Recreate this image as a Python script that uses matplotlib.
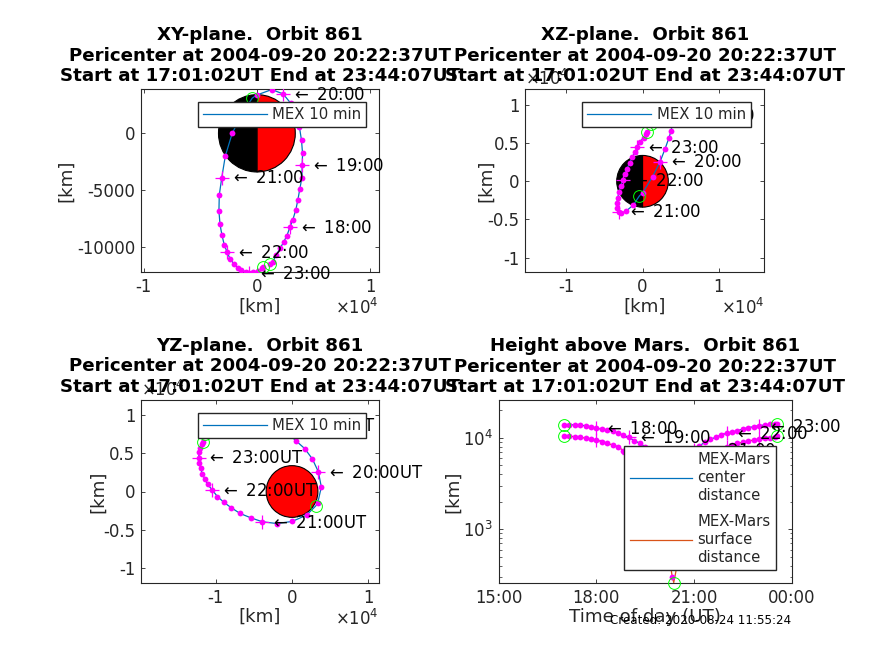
import matplotlib
matplotlib.use("Agg")
import matplotlib.pyplot as plt
from matplotlib.patches import Wedge
from matplotlib.ticker import FuncFormatter, NullFormatter, LogLocator
import numpy as np

W, H = 874, 655
plt.rcParams['font.family'] = ['DejaVu Sans']
plt.rcParams['mathtext.default'] = 'regular'
plt.rcParams['mathtext.fontset'] = 'cm'

times = ["17:01","17:10","17:20","17:30","17:40","17:50","18:00","18:10","18:20","18:30","18:40","18:50",
         "19:00","19:10","19:20","19:30","19:40","19:50","20:00","20:10","20:20","20:22:37","20:30","20:40","20:50",
         "21:00","21:10","21:20","21:30","21:40","21:50","22:00","22:10","22:20","22:30","22:40","22:50",
         "23:00","23:10","23:20","23:30","23:33"]
x_km = [1170,1410,1680,2060,2380,2650,2910,3180,3440,3620,3790,3970,
        4000,4030,3940,3760,3450,2970,2320,1320,0,-400,-1200,-2180,-2790,
        -3100,-3320,-3350,-3260,-3090,-2880,-2620,-2350,-2030,-1710,-1380,-1000,
        -680,-300,140,440,530]
y_km = [-11460,-11310,-10700,-10080,-9500,-8970,-8260,-7560,-6700,-5820,-4880,-3910,
        -2820,-1760,-620,520,1660,2660,3450,3840,3360,3100,1900,0,-2000,
        -3890,-5410,-6810,-7950,-8910,-9780,-10440,-11050,-11440,-11790,-12000,-12140,
        -12230,-12170,-12050,-11840,-11700]
z_km = [7500,7800,8100,8400,8600,8800,8900,9000,9000,8950,8900,8850,
        8700,8350,7710,6640,5630,4280,2590,600,-1530,-1900,-3100,-3930,-4200,
        -3970,-3450,-2880,-2140,-1440,-660,170,920,1660,2360,3140,3800,
        4450,5200,5720,6200,6500]
center_km = [13900,13870,13760,13650,13520,13190,12760,12350,12140,11830,11170,10650,
             10050,9300,8680,7980,7290,5800,4860,4090,3690,3652,3830,4490,6200,
             7250,8150,8910,9600,10100,10680,11170,11540,11900,12440,12860,13190,
             13520,13760,14000,14000,14000]
surface_km = [10510,10350,10280,10170,9850,9600,9440,9040,8690,8320,7980,7210,
              6610,5910,5290,4590,3900,2410,1470,700,300,262,440,1100,2030,
              2970,3830,5520,6210,6800,7400,7980,8320,8690,8910,9200,9440,
              9670,9850,10000,10250,10510]
hour_marks = ["18:00","19:00","20:00","21:00","22:00","23:00"]
circle_marks = ["17:01","20:22:37","23:33"]
mars_radius = 3390
titles = ["XY-plane.  Orbit 861", "XZ-plane.  Orbit 861", "YZ-plane.  Orbit 861", "Height above Mars.  Orbit 861"]
subtitle = "Pericenter at 2004-09-20 20:22:37UT\nStart at 17:01:02UT End at 23:44:07UT"
created = "Created: 2020-08-24 11:55:24"
FS = 11.9
LFS = 10.75
TFS = 13.15
BLUE, ORANGE, DARK = '#0072BD', '#D95319', '#262626'

x_km, y_km, z_km = map(np.array, (x_km, y_km, z_km))
center_km, surface_km = np.array(center_km), np.array(surface_km)
def to_h(s):
    p = [int(v) for v in s.split(":")] + [0]
    return p[0] + p[1]/60 + p[2]/3600
hours = np.array([to_h(t) for t in times])
idx_hour = [times.index(t) for t in hour_marks]
idx_circ = [times.index(t) for t in circle_marks]
idx_dots = [i for i, t in enumerate(times) if t != "20:22:37"]

fig = plt.figure(figsize=(W/100, H/100), dpi=100)

def mkax(l, t, r, b):
    ax = fig.add_axes([l/W, 1-b/H, (r-l)/W, (b-t)/H])
    ax.tick_params(direction='in', top=True, right=True, length=3, width=0.6, labelsize=FS,
                   colors=DARK, pad=4)
    for s in ax.spines.values():
        s.set_linewidth(0.8); s.set_color(DARK)
    return ax

def style(ax, title, lx, ly=-0.19):
    ax.set_title(title + "\n" + subtitle, fontsize=TFS, fontweight='bold', pad=6, linespacing=1.17, color='k')
    ax.xaxis.label.set_va('center'); ax.yaxis.label.set_va('center')
    ax.yaxis.set_label_coords(lx, 0.5)
    ax.xaxis.set_label_coords(0.5, ly)

def legend(ax, px, py, labels=("MEX 10 min",)):
    return ax.legend(labels=labels, handles=ax._lh, loc='upper left', bbox_to_anchor=(px/W, 1-py/H),
              bbox_transform=fig.transFigure, fontsize=LFS, fancybox=False, framealpha=1, edgecolor=DARK,
              borderaxespad=0, handlelength=4.3, handletextpad=0.35, borderpad=0.33, labelcolor='#262626')

def arrow_text(ax, a, b, label, dx):
    ax.annotate("$\\leftarrow$ " + label, (a, b), xytext=(dx, -0.6), textcoords='offset points',
                fontsize=FS, va='center', ha='left', color='k', zorder=4, annotation_clip=False)

def orbit(ax, a, b, suffix, dx=6.3):
    ln, = ax.plot(a, b, color=BLUE, lw=0.9, zorder=2)
    ax._lh = [ln]
    ax.plot(a[idx_dots], b[idx_dots], 'o', color='#FF00FF', ms=4.2, mew=0, zorder=3)
    ax.plot(a[idx_hour], b[idx_hour], '+', color='#FF00FF', ms=10, mew=0.9, zorder=3)
    ax.plot(a[idx_circ], b[idx_circ], 'o', mfc='none', mec='#00FF00', ms=8.5, mew=0.7, zorder=3)
    for i, t in zip(idx_hour, hour_marks):
        arrow_text(ax, a[i], b[i], t + suffix, dx)

def mars(ax, half=True):
    kw = dict(ec='k', lw=0.8, zorder=1)
    if half:
        ax.add_patch(Wedge((0, 0), mars_radius, -90, 90, fc='#FF0000', **kw))
        ax.add_patch(Wedge((0, 0), mars_radius, 90, 270, fc='k', **kw))
    else:
        ax.add_patch(Wedge((0, 0), mars_radius, 0, 360, fc='#FF0000', **kw))

e4 = FuncFormatter(lambda v, p: f"{v/1e4:g}")
off = "$\\times 10^{4}$"
def off_low(ax):
    ax.text(1.0, -0.14, off, transform=ax.transAxes, ha='right', va='top', fontsize=FS, color=DARK)
def off_top(ax):
    ax.text(0.0, 1.0, off, transform=ax.transAxes, ha='left', va='bottom', fontsize=FS, color=DARK, zorder=0)

# XY
ax1 = mkax(141, 89.3, 379, 272.3)
mars(ax1); orbit(ax1, x_km, y_km, "")
ax1.set_xlim(-10230, 10780); ax1.set_ylim(-12190, 3860)
ax1.set_xticks([-10000, 0, 10000]); ax1.xaxis.set_major_formatter(e4)
ax1.set_yticks([-10000, -5000, 0]); ax1.yaxis.set_major_formatter(FuncFormatter(lambda v, p: f"{v:.0f}"))
ax1.set_xlabel("[km]", fontsize=TFS, color=DARK); ax1.set_ylabel("[km]", fontsize=TFS, color=DARK)
style(ax1, titles[0], -0.315)
legend(ax1, 197.7, 102.3)
off_low(ax1)

# XZ
ax2 = mkax(525.3, 89.3, 764.3, 272.3)
mars(ax2); orbit(ax2, x_km, z_km, "")
ax2.set_xlim(-15400, 16000); ax2.set_ylim(-11930, 12060)
ax2.set_xticks([-10000, 0, 10000]); ax2.xaxis.set_major_formatter(e4)
ax2.set_yticks([-10000, -5000, 0, 5000, 10000]); ax2.yaxis.set_major_formatter(e4)
ax2.set_xlabel("[km]", fontsize=TFS, color=DARK); ax2.set_ylabel("[km]", fontsize=TFS, color=DARK)
style(ax2, titles[1], -0.163)
legend(ax2, 582.3, 102.3)
off_top(ax2); off_low(ax2)

# YZ
ax3 = mkax(141, 400, 379, 583)
mars(ax3, half=False); orbit(ax3, y_km, z_km, "UT")
ax3.set_xlim(-19800, 11400); ax3.set_ylim(-12000, 12000)
ax3.set_xticks([-10000, 0, 10000]); ax3.xaxis.set_major_formatter(e4)
ax3.set_yticks([-10000, -5000, 0, 5000, 10000]); ax3.yaxis.set_major_formatter(e4)
ax3.set_xlabel("[km]", fontsize=TFS, color=DARK); ax3.set_ylabel("[km]", fontsize=TFS, color=DARK)
style(ax3, titles[2], -0.18, -0.186)
legend(ax3, 197.7, 413.3)
off_top(ax3); off_low(ax3)

# Height
ax4 = mkax(498.7, 400.3, 791.7, 583)
ax4.set_yscale('log')
l1, = ax4.plot(hours, center_km, color=BLUE, lw=0.9, zorder=2)
l2, = ax4.plot(hours, surface_km, color=ORANGE, lw=0.9, zorder=2)
for s in (center_km, surface_km):
    ax4.plot(hours[idx_dots], s[idx_dots], 'o', color='#FF00FF', ms=4.2, mew=0, zorder=3)
    ax4.plot(hours[idx_hour], s[idx_hour], '+', color='#FF00FF', ms=10, mew=0.9, zorder=3)
    ax4.plot(hours[idx_circ], s[idx_circ], 'o', mfc='none', mec='#00FF00', ms=8.5, mew=0.7, zorder=3, clip_on=False)
for i, t in zip(idx_hour, hour_marks):
    arrow_text(ax4, hours[i], center_km[i], t, 6.3)
ax4.set_xlim(15, 24); ax4.set_ylim(259, 25600)
ax4.set_xticks([15, 18, 21, 24]); ax4.set_xticklabels(["15:00", "18:00", "21:00", "00:00"])
ax4.set_yticks([1000, 10000])
ax4.yaxis.set_minor_locator(LogLocator(base=10, subs=range(2, 10), numticks=10))
ax4.yaxis.set_minor_formatter(NullFormatter())
ax4.tick_params(which='minor', direction='in', right=True, length=1.8, width=0.5, colors=DARK)
ax4.set_xlabel("Time of day (UT)", fontsize=TFS, color=DARK); ax4.set_ylabel("[km]", fontsize=TFS, color=DARK)
style(ax4, titles[3], -0.156, -0.186)
leg4 = ax4.legend(handles=[l1, l2], labels=["MEX-Mars\ncenter\ndistance", "MEX-Mars\nsurface\ndistance"],
                  loc='upper left', bbox_to_anchor=(624.3/W, 1-446.3/H), bbox_transform=fig.transFigure,
                  fontsize=LFS, fancybox=False, framealpha=1, edgecolor=DARK, borderaxespad=0,
                  handlelength=4.2, handletextpad=0.35, borderpad=0.36, labelspacing=0.75, labelcolor='#262626')
for t in leg4.get_texts():
    t.set_linespacing(1.25)

fig.text(791.5/W, 1-621/H, created, ha='right', va='center', fontsize=8.6, color='k')
fig.savefig("out.png", dpi=100)
